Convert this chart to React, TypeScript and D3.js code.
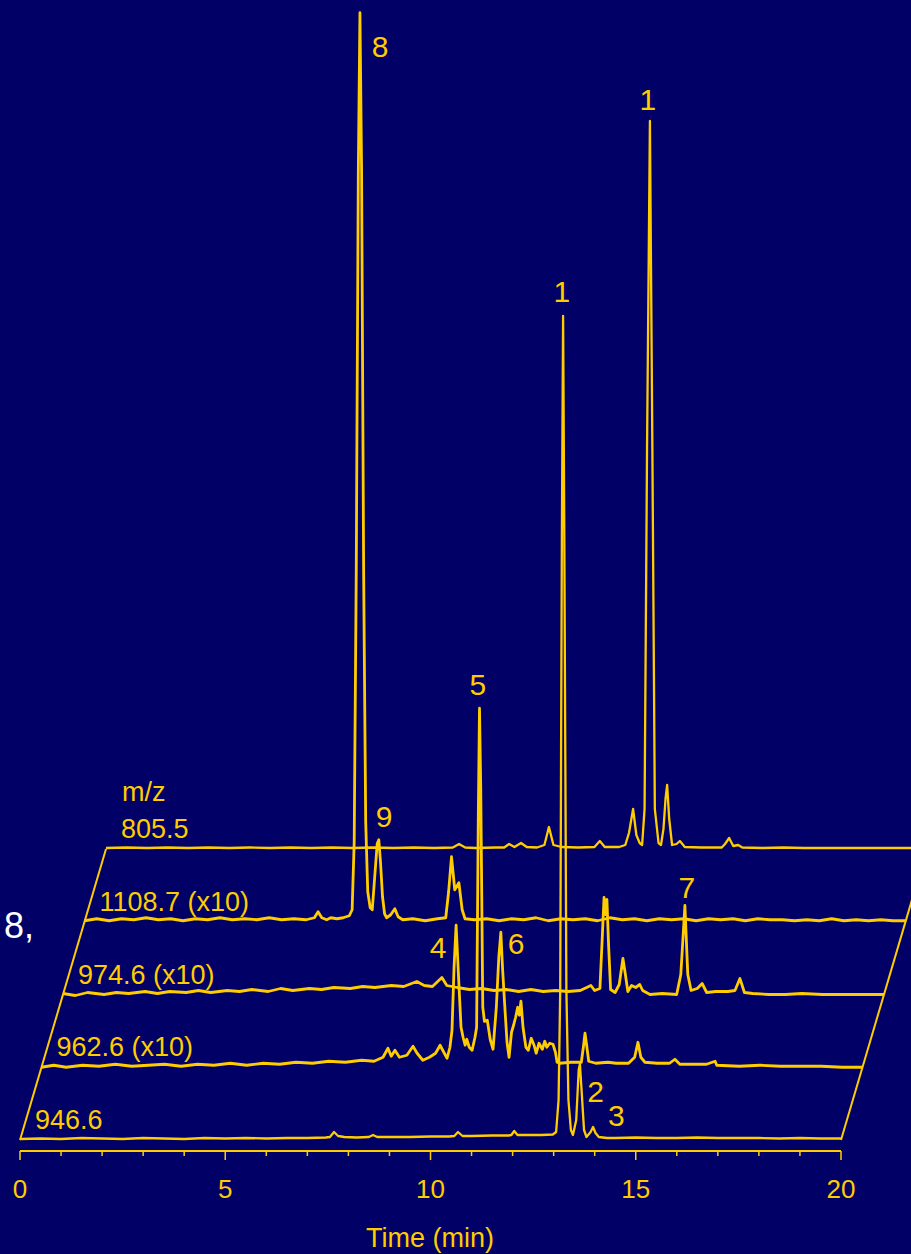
import * as d3 from "d3";

const width = 911;
const height = 1254;

const bg = "#000066";
const gold = "#FFCC00";
const font = "'Liberation Sans', Arial, sans-serif";

// time axis
const timeDomain: [number, number] = [0, 20];
const majorTicks = [0, 5, 10, 15, 20];
const minorTicks = [1, 2, 3, 4, 6, 7, 8, 9, 11, 12, 13, 14, 16, 17, 18, 19];

// channels, front to back
const channelLabels = ["946.6", "962.6 (x10)", "974.6 (x10)", "1108.7 (x10)", "805.5"];

// [time (min), intensity]
const trace946: [number, number][] = [
  [0, 1], [0.5, 1.5], [1, 1], [1.5, 2], [2, 1.5], [2.5, 1], [3, 2], [3.5, 1.5], [4, 1], [4.5, 2],
  [5, 1.5], [5.5, 2], [6, 1.5], [6.5, 2], [7, 2], [7.45, 2.5], [7.55, 3], [7.65, 8], [7.75, 4],
  [7.9, 3], [8.2, 2.5], [8.5, 3], [8.6, 5], [8.7, 3], [9, 3], [9.5, 3], [10, 3.5], [10.45, 3.5],
  [10.58, 4], [10.67, 8], [10.78, 4], [11, 4], [11.5, 4.5], [11.9, 4.5], [11.97, 5], [12.04, 9],
  [12.12, 5], [12.4, 5], [12.7, 5], [12.98, 5.5], [13.06, 8], [13.12, 40], [13.16, 150], [13.2, 600],
  [13.23, 824], [13.26, 600], [13.31, 150], [13.36, 40], [13.42, 10], [13.47, 5], [13.55, 20],
  [13.61, 70], [13.64, 76], [13.68, 50], [13.74, 10], [13.8, 3], [13.9, 8], [13.96, 13], [14.02, 7],
  [14.1, 3], [14.3, 2], [14.5, 2], [15, 2.5], [15.5, 2], [16, 2], [16.5, 2.5], [17, 2], [17.5, 2],
  [18, 2], [18.5, 1.5], [19, 2], [19.5, 1.5], [20, 1.5],
];

const trace962: [number, number][] = [
  [0, 0], [0.3, 2], [0.6, 0], [1, 2], [1.4, 1], [1.8, 3], [2.2, 1], [2.6, 2], [3, 3], [3.4, 1],
  [3.8, 3], [4.2, 2], [4.6, 4], [5, 2], [5.4, 4], [5.8, 3], [6.2, 5], [6.6, 4], [7, 6], [7.4, 5],
  [7.8, 7], [8.1, 6], [8.32, 10], [8.44, 19], [8.52, 11], [8.61, 17], [8.72, 10], [8.9, 12],
  [9.05, 21], [9.15, 14], [9.29, 7], [9.45, 10], [9.6, 14], [9.71, 22], [9.8, 15], [9.88, 9],
  [9.95, 20], [10.0, 37], [10.05, 100], [10.1, 142], [10.16, 90], [10.22, 40], [10.27, 30],
  [10.32, 22], [10.36, 28], [10.42, 20], [10.49, 17], [10.56, 30], [10.6, 40], [10.64, 250],
  [10.67, 359], [10.7, 280], [10.75, 60], [10.79, 46], [10.86, 47], [10.93, 28], [11.0, 18],
  [11.08, 60], [11.14, 110], [11.19, 135], [11.23, 100], [11.28, 65], [11.34, 25], [11.39, 10],
  [11.45, 35], [11.5, 42], [11.55, 50], [11.6, 60], [11.64, 52], [11.68, 66], [11.73, 40],
  [11.8, 20], [11.86, 17], [11.93, 29], [12.0, 22], [12.05, 14], [12.12, 24], [12.2, 18],
  [12.26, 26], [12.31, 20], [12.38, 24], [12.46, 23], [12.52, 15], [12.56, 5], [12.62, 4],
  [12.9, 5], [13.15, 5], [13.2, 20], [13.24, 34], [13.28, 22], [13.33, 6], [13.5, 4], [13.8, 5],
  [14.0, 4], [14.3, 4], [14.45, 10], [14.53, 25], [14.6, 10], [14.7, 5], [15.0, 4], [15.3, 4],
  [15.43, 8], [15.55, 3], [15.9, 3], [16.2, 3], [16.41, 6], [16.45, 2], [17, 1], [17.5, 2],
  [18, 1], [18.5, 1], [19, 1], [19.5, 0], [20, 0],
];

const trace974: [number, number][] = [
  [0, 1], [0.3, -1], [0.6, 2], [1, 0], [1.3, 2], [1.6, 1], [2, 3], [2.3, 1], [2.6, 3], [3, 2],
  [3.3, 4], [3.6, 2], [4, 4], [4.3, 3], [4.6, 5], [5, 3], [5.3, 6], [5.6, 4], [6, 6], [6.3, 5],
  [6.6, 7], [7, 6], [7.3, 8], [7.6, 7], [8, 9], [8.3, 8], [8.62, 13], [8.8, 9], [9, 8],
  [9.23, 17], [9.35, 9], [9.6, 7], [9.9, 5], [10.2, 6], [10.5, 4], [10.8, 5], [11.1, 3],
  [11.4, 5], [11.7, 3], [12, 4], [12.3, 3], [12.6, 4], [12.86, 9], [12.95, 4], [13.08, 6],
  [13.14, 60], [13.18, 97], [13.21, 80], [13.25, 95], [13.29, 50], [13.34, 5], [13.45, 2],
  [13.55, 10], [13.64, 36], [13.7, 20], [13.76, 3], [13.85, 9], [13.95, 7], [14.05, 10],
  [14.12, 4], [14.3, 0], [14.6, 1], [14.95, 0], [15.05, 20], [15.15, 89], [15.22, 20],
  [15.3, 4], [15.45, 6], [15.57, 11], [15.68, 2], [15.9, 3], [16.2, 3], [16.37, 4],
  [16.49, 16], [16.6, 2], [16.8, 1], [17.2, 0], [17.6, 0], [18, 1], [18.5, 0], [19, 0],
  [19.5, 0], [20, 0],
];

const trace1108: [number, number][] = [
  [0, 1], [0.3, 3], [0.6, 1], [0.9, 3], [1.2, 2], [1.5, 4], [1.8, 2], [2.1, 3], [2.4, 1],
  [2.7, 3], [3, 2], [3.3, 4], [3.6, 2], [3.9, 3], [4.2, 2], [4.5, 4], [4.8, 2], [5.1, 3],
  [5.4, 2], [5.6, 4], [5.69, 10], [5.78, 4], [5.9, 2], [6.0, 4], [6.15, 3], [6.3, 4], [6.45, 6],
  [6.52, 12], [6.57, 80], [6.62, 350], [6.67, 750], [6.71, 909], [6.75, 750], [6.8, 350],
  [6.85, 100], [6.9, 30], [6.96, 14], [7.01, 12], [7.07, 45], [7.13, 78], [7.17, 82],
  [7.21, 60], [7.26, 25], [7.31, 8], [7.36, 4], [7.46, 7], [7.56, 13], [7.64, 5], [7.75, 2],
  [8, 3], [8.3, 1], [8.6, 3], [8.8, 4], [8.87, 30], [8.94, 65], [9.02, 32], [9.12, 39],
  [9.2, 12], [9.27, 3], [9.5, 2], [9.8, 3], [10.1, 1], [10.4, 3], [10.7, 2], [11, 4], [11.3, 1],
  [11.6, 3], [11.9, 2], [12.2, 3], [12.5, 1], [12.8, 4], [13.1, 2], [13.4, 3], [13.7, 1],
  [14, 3], [14.3, 2], [14.6, 3], [14.9, 1], [15.2, 3], [15.5, 2], [15.8, 3], [16.1, 1],
  [16.4, 3], [16.7, 2], [17, 2], [17.3, 1], [17.6, 2], [17.9, 1], [18.2, 3], [18.5, 1],
  [18.8, 2], [19.1, 1], [19.4, 2], [19.7, 1], [20, 1],
];

const trace805: [number, number][] = [
  [0, 1], [0.5, 1.5], [1, 1], [1.5, 1.5], [2, 1], [2.5, 1.5], [3, 1], [3.5, 1.5], [4, 1],
  [4.5, 1.5], [5, 1], [5.5, 1.5], [6, 1], [6.5, 1.5], [7, 1], [7.5, 1.5], [8, 1], [8.45, 1.5],
  [8.6, 5], [8.75, 1.5], [9, 1], [9.5, 1.5], [9.7, 1.5], [9.82, 5], [9.95, 2], [10.11, 6],
  [10.25, 2], [10.5, 1.5], [10.68, 4], [10.79, 22], [10.9, 4], [11.1, 2], [11.5, 1.5], [11.9, 2],
  [12.03, 8], [12.15, 2], [12.5, 2], [12.65, 4], [12.74, 16], [12.84, 40], [12.92, 14],
  [13.0, 6], [13.06, 4], [13.12, 40], [13.18, 400], [13.25, 728], [13.31, 400], [13.37, 40],
  [13.46, 6], [13.52, 4], [13.58, 20], [13.63, 50], [13.67, 64], [13.72, 30], [13.79, 4],
  [13.9, 5], [13.98, 8], [14.1, 2], [14.5, 1.5], [15, 1.5], [15.08, 5], [15.18, 11], [15.28, 3],
  [15.4, 4], [15.5, 1.5], [16, 1], [16.5, 1.5], [17, 1], [17.5, 1], [18, 1], [18.5, 1], [19, 1],
  [19.5, 1], [20, 1],
];

const traces = [trace946, trace962, trace974, trace1108, trace805];
const strokeWidths = [2.3, 2.8, 2.8, 2.8, 2.3];

// peak numbers: channel index and [time, intensity] anchor
const peakLabels: { text: string; channel: number; t: number; h: number }[] = [
  { text: "8", channel: 3, t: 7.2, h: 865 },
  { text: "1", channel: 4, t: 13.2, h: 739 },
  { text: "1", channel: 0, t: 13.2, h: 838 },
  { text: "5", channel: 1, t: 10.63, h: 372 },
  { text: "9", channel: 3, t: 7.3, h: 95 },
  { text: "7", channel: 2, t: 15.2, h: 97 },
  { text: "4", channel: 1, t: 9.66, h: 109 },
  { text: "6", channel: 1, t: 11.56, h: 113 },
  { text: "2", channel: 0, t: 14.02, h: 38 },
  { text: "3", channel: 0, t: 14.53, h: 14 },
];

const frontBase = 1140;
const depthDx = 21.5;
const depthDy = 72.75;

export default function App() {
  const x = d3.scaleLinear().domain(timeDomain).range([20, 841]);
  const y = d3.scaleLinear().domain([0, 1000]).range([0, 1000]);
  const offX = (k: number) => k * depthDx;
  const baseY = (k: number) => frontBase - k * depthDy;

  const lineFor = (k: number) =>
    d3
      .line<[number, number]>()
      .x((d) => x(d[0]) + offX(k))
      .y((d) => baseY(k) - y(d[1]));

  const back = traces.length - 1;
  const axisY = 1151;

  return (
    <svg
      width={width}
      height={height}
      viewBox={`0 0 ${width} ${height}`}
      style={{ position: "absolute", left: 0, top: 0, display: "block" }}
      fontFamily={font}
    >
      <rect width={width} height={height} fill={bg} />

      {/* side edges of the stack */}
      <line x1={x(0)} y1={baseY(0)} x2={x(0) + offX(back)} y2={baseY(back)} stroke={gold} strokeWidth={2} />
      <line x1={x(20)} y1={baseY(0)} x2={x(20) + offX(back)} y2={baseY(back)} stroke={gold} strokeWidth={2} />

      {traces.map((tr, k) => (
        <path
          key={k}
          d={lineFor(k)(tr) ?? ""}
          fill="none"
          stroke={gold}
          strokeWidth={strokeWidths[k]}
          strokeLinejoin="round"
        />
      ))}

      {channelLabels.map((lab, k) => (
        <text key={lab} x={x(0) + offX(k) + 15} y={baseY(k) - 11} fill={gold} fontSize={27}>
          {lab}
        </text>
      ))}
      <text x={x(0) + offX(back) + 16} y={baseY(back) - 48} fill={gold} fontSize={27}>
        m/z
      </text>

      {peakLabels.map((p, i) => (
        <text
          key={i}
          x={x(p.t) + offX(p.channel)}
          y={baseY(p.channel) - y(p.h)}
          fill={gold}
          fontSize={30}
          textAnchor="middle"
        >
          {p.text}
        </text>
      ))}

      <text x={4} y={938} fill="#ffffff" fontSize={36}>
        8,
      </text>

      {/* time axis */}
      <line x1={x(0)} x2={x(20)} y1={axisY} y2={axisY} stroke={gold} strokeWidth={1.8} />
      {minorTicks.map((t) => (
        <line key={t} x1={x(t)} x2={x(t)} y1={axisY} y2={axisY + 5} stroke={gold} strokeWidth={1.5} />
      ))}
      {majorTicks.map((t) => (
        <g key={t}>
          <line x1={x(t)} x2={x(t)} y1={axisY} y2={axisY + 9} stroke={gold} strokeWidth={1.5} />
          <text x={x(t)} y={1198} fill={gold} fontSize={26} textAnchor="middle">
            {t}
          </text>
        </g>
      ))}
      <text x={430} y={1247} fill={gold} fontSize={27} textAnchor="middle">
        Time (min)
      </text>
    </svg>
  );
}
